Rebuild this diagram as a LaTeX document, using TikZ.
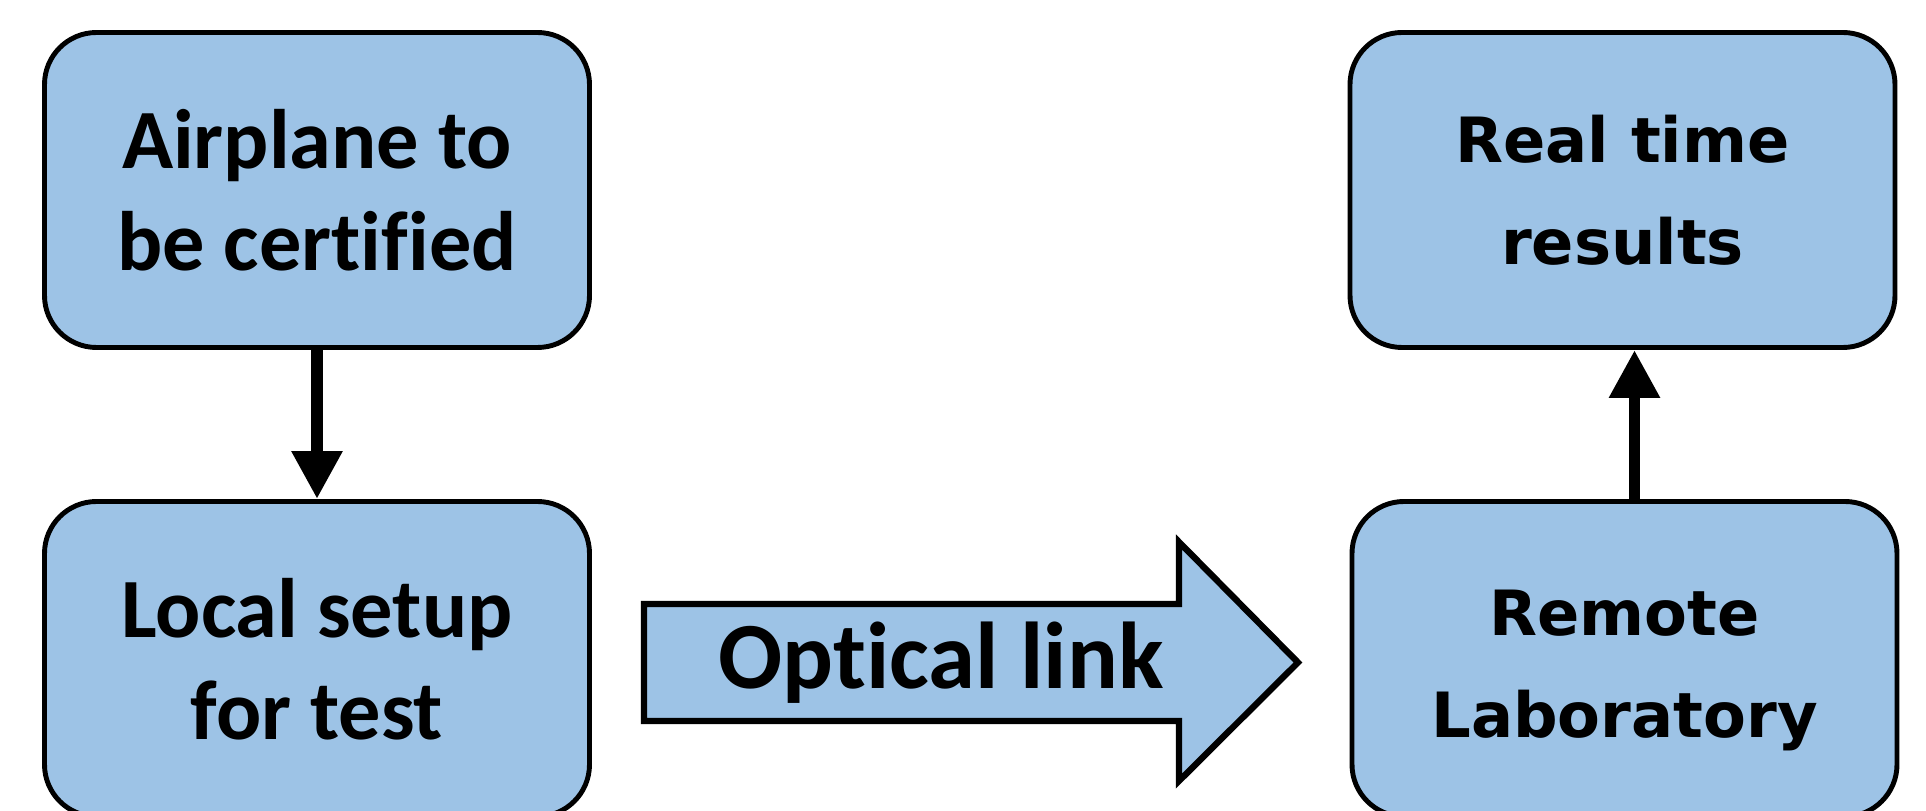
\documentclass[tikz,border=0pt]{standalone}
\usepackage{fontspec}
\setmainfont{Carlito}[Ligatures=NoCommon]
\newfontfamily\wideface{DejaVu Sans}
\usetikzlibrary{arrows.meta}
\definecolor{boxblue}{HTML}{9DC3E6}
\begin{document}
\begin{tikzpicture}[
    block/.style={draw,line width=2.8pt,fill=boxblue,rounded corners=1.04cm,
        minimum width=10.9cm,minimum height=6.3cm,align=center,
        font=\fontsize{48}{58}\selectfont\bfseries},
    wideblock/.style={block,font=\wideface\fontsize{35.5}{58}\selectfont\bfseries},
    flow/.style={line width=6.8pt,-{Triangle[length=0.96cm,width=0.96cm]}}]
            \useasboundingbox (0,0) rectangle (38.52,16.22);
            \node[block] (plane) at (6.34,12.42) {Airplane to\\be certified};
            \node[block] (local) at (6.34,3.04) {Local setup\\for test};
            \node[wideblock] (results) at (32.45,12.42) {Real time\\results};
            \node[wideblock] (remote) at (32.49,3.04) {\rule{0pt}{1.36cm}Remote\\Laboratory};
            \draw[flow] (plane) -- (local);
            \draw[flow] ([xshift=0.2cm]remote.north) -- ([xshift=0.2cm]remote.north |- results.south);
            % big arrow for the link
            \draw[line width=3.6pt,fill=boxblue,line join=miter] (12.88,1.80) -- (23.58,1.80) -- (23.58,0.60)
                -- (25.96,2.97) -- (23.58,5.38) -- (23.58,4.14) -- (12.88,4.14) -- cycle;
            \node[font=\fontsize{54}{60}\selectfont\bfseries] (link) at (18.82,2.97) {Optical link};
        \end{tikzpicture}
\end{document}
